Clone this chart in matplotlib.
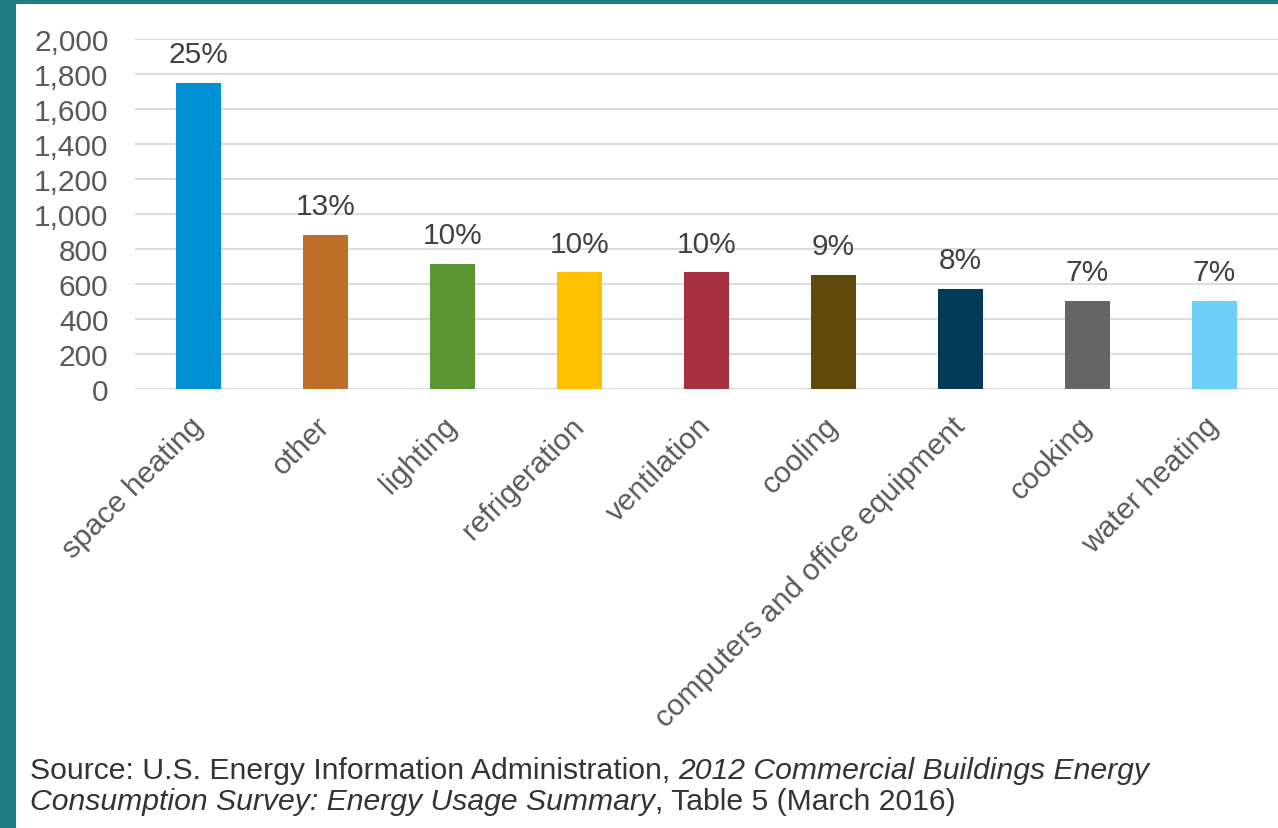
import matplotlib
matplotlib.use("Agg")
from matplotlib import pyplot as plt
from matplotlib import transforms as mtransforms
from matplotlib.patches import Rectangle
from matplotlib.ticker import FuncFormatter

# end-use consumption, 2012 CBECS (trillion Btu) and share of total
end_uses = ['space heating', 'other', 'lighting', 'refrigeration', 'ventilation',
            'cooling', 'computers and office equipment', 'cooking', 'water heating']
consumption = [1750, 880, 714, 668, 667, 651, 571, 504, 503]
shares = ['25%', '13%', '10%', '10%', '10%', '9%', '8%', '7%', '7%']
bar_colors = ['#0091D5', '#BE7029', '#5A9632', '#FFC000', '#A5303F',
              '#604A0B', '#003A55', '#656565', '#6DD0F7']
y_ticks = [0, 200, 400, 600, 800, 1000, 1200, 1400, 1600, 1800, 2000]

plt.rcParams['font.family'] = ['Liberation Sans', 'DejaVu Sans']

W, H = 1278, 829
fig = plt.figure(figsize=(W / 100, H / 100), dpi=100)
fig.patch.set_facecolor('#1E7C82')
# white slide area inside the teal frame
fig.patches.append(Rectangle((16 / W, 0), 1 - 16 / W, 1 - 5 / H,
                             transform=fig.transFigure, facecolor='white',
                             edgecolor='none', zorder=-5))

ax = fig.add_axes([135 / W, 1 - 390 / H, 1 - 135 / W, 350 / H])
ax.set_zorder(2)
ax.set_facecolor('none')

x = range(len(end_uses))
ax.bar(x, consumption, width=0.355, color=bar_colors, zorder=3)

for i, (val, share) in enumerate(zip(consumption, shares)):
    ax.annotate(share, (i, val), xytext=(0, 10.5), textcoords='offset points',
                ha='center', va='bottom', fontsize=21.5, color='#404040')

ax.set_xlim(-0.5, len(end_uses) - 0.5)
ax.set_ylim(0, 2000)
ax.set_yticks(y_ticks)
ax.yaxis.set_major_formatter(FuncFormatter(lambda v, p: '{:,.0f}'.format(v)))
ax.grid(axis='y', color='#D9D9D9', linewidth=1.3, zorder=0)
ax.set_axisbelow(True)

for side in ['top', 'right', 'left', 'bottom']:
    ax.spines[side].set_visible(False)

ax.tick_params(axis='y', length=0, pad=19, labelsize=21.5, labelcolor='#595959')
ax.tick_params(axis='x', length=0, pad=16, labelsize=21.5, labelcolor='#595959')

ax.set_xticks(list(x))
ax.set_xticklabels(end_uses, rotation=45, ha='right', va='top', rotation_mode='anchor')
shift = mtransforms.ScaledTranslation(-7 / 72, 0, fig.dpi_scale_trans)
for lbl in ax.get_xticklabels():
    lbl.set_transform(lbl.get_transform() + shift)

# source note, mixing upright and italic runs
fs_src = 21.7
line_rows = [
    (1 - 771 / H, [('Source: U.S. Energy Information Administration, ', 'normal'),
                   ('2012 Commercial Buildings Energy', 'italic')]),
    (1 - 802 / H, [('Consumption Survey: Energy Usage Summary', 'italic'),
                   (', Table 5 (March 2016)', 'normal')]),
]
for y_row, parts in line_rows:
    xpos = 30 / W
    for txt, st in parts:
        t = fig.text(xpos, y_row, txt, fontsize=fs_src, style=st, color='#333333', va='center')
        fig.canvas.draw()
        xpos = t.get_window_extent().x1 / W

fig.savefig('out.png', dpi=100, facecolor=fig.get_facecolor())
